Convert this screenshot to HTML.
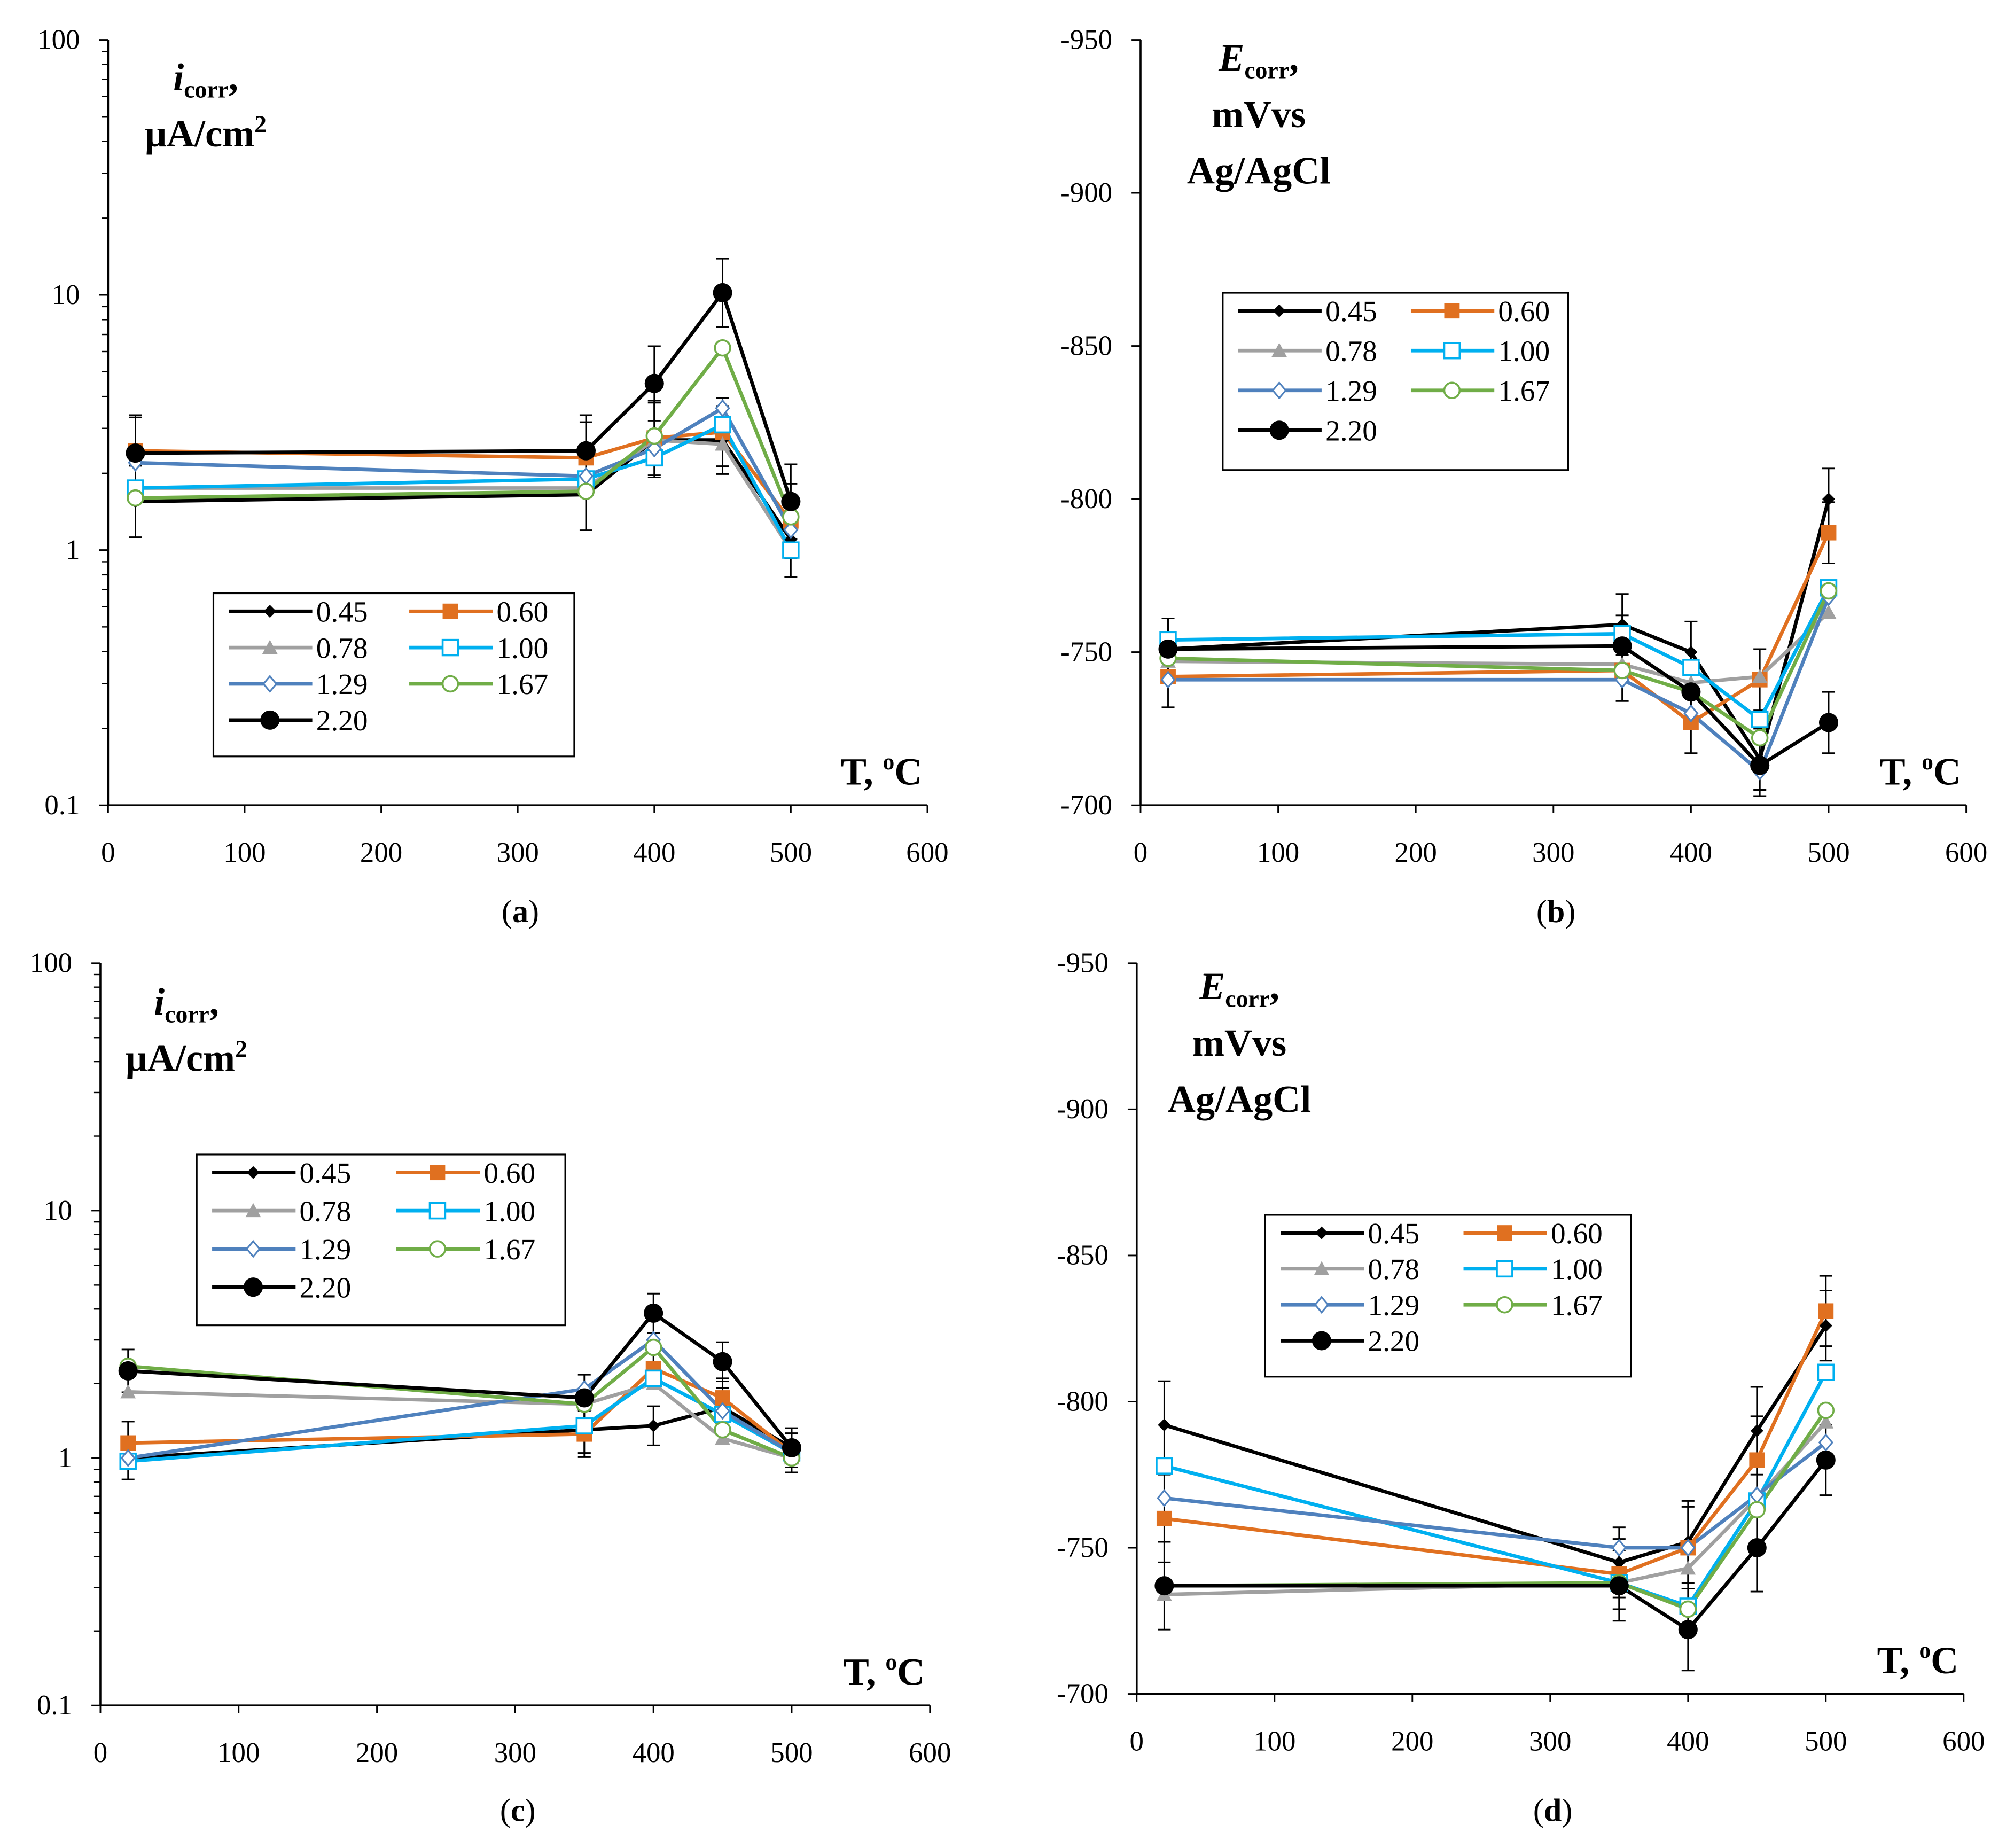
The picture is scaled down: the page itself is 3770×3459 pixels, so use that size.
<!DOCTYPE html>
<html><head><meta charset="utf-8">
<style>
html,body{margin:0;padding:0;background:#fff;}
svg{display:block;}
text{font-family:"Liberation Serif",serif;fill:#000;}
</style></head>
<body>
<svg id="fig" width="3770" height="3459" viewBox="0 0 1568 1439" xmlns="http://www.w3.org/2000/svg"></svg>
<script>
const temps = [20, 350, 400, 450, 500];
const seriesNames = ["0.45","0.60","0.78","1.00","1.29","1.67","2.20"];
const colors = ["#000000","#E07020","#A0A0A0","#00B0F0","#4F81BD","#70AD47","#000000"];
const markers = ["diamondFill","squareFill","triFill","squareOpen","diamondOpen","circleOpen","circleFill"];
const xTicks = [0,100,200,300,400,500,600];
const logTicks = [0.1,1,10,100];
const logTickLabels = ["0.1","1","10","100"];
const eTicks = [-700,-750,-800,-850,-900,-950];

const aVals = [
 [1.55,1.65,2.7,2.7,1.1],
 [2.45,2.3,2.75,2.9,1.3],
 [1.75,1.75,2.7,2.6,1.0],
 [1.75,1.9,2.3,3.1,1.0],
 [2.2,1.95,2.5,3.6,1.2],
 [1.6,1.7,2.8,6.2,1.35],
 [2.4,2.45,4.5,10.2,1.55]];
const aErr = [0.95,0.95,1.0,0.9,1.0];
const bVals = [
 [-751,-759,-750,-715,-800],
 [-742,-744,-727,-741,-789],
 [-747,-746,-740,-742,-763],
 [-754,-756,-745,-728,-771],
 [-741,-741,-730,-711,-768],
 [-748,-744,-737,-722,-770],
 [-751,-752,-737,-713,-727]];
const bErr = [10,10,10,10,10];
const cVals = [
 [1.0,1.3,1.35,1.6,1.1],
 [1.15,1.25,2.3,1.75,1.05],
 [1.85,1.65,2.0,1.2,1.0],
 [0.97,1.35,2.1,1.5,1.05],
 [1.0,1.9,3.0,1.55,1.05],
 [2.35,1.65,2.8,1.3,1.0],
 [2.25,1.75,3.85,2.45,1.1]];
const cErr = [0.55,0.6,0.5,0.5,0.5];
const dVals = [
 [-792,-745,-752,-790,-826],
 [-760,-741,-750,-780,-831],
 [-734,-738,-743,-767,-793],
 [-778,-738,-730,-766,-810],
 [-767,-750,-750,-768,-786],
 [-737,-738,-729,-763,-797],
 [-737,-737,-722,-750,-780]];
const dErr = [15,12,14,15,12];

const NS="http://www.w3.org/2000/svg";
const svg=document.getElementById('fig');
function mk(tag,attrs,parent){const e=document.createElementNS(NS,tag);for(const k in attrs)e.setAttribute(k,attrs[k]);(parent||svg).appendChild(e);return e;}

function marker(g,type,x,y,c){
  let e;
  if(type==="diamondFill"){e=mk('path',{d:`M${x} ${y-5}L${x+5} ${y}L${x} ${y+5}L${x-5} ${y}Z`,fill:c},g);}
  else if(type==="diamondOpen"){e=mk('path',{d:`M${x} ${y-6}L${x+5} ${y}L${x} ${y+6}L${x-5} ${y}Z`,fill:'#fff',stroke:c,'stroke-width':1.3},g);}
  else if(type==="squareFill"){e=mk('rect',{x:x-6,y:y-6,width:12,height:12,fill:c},g);}
  else if(type==="squareOpen"){e=mk('rect',{x:x-6,y:y-6,width:12,height:12,fill:'#fff',stroke:c,'stroke-width':1.5},g);}
  else if(type==="triFill"){e=mk('path',{d:`M${x} ${y-6}L${x+6} ${y+5}L${x-6} ${y+5}Z`,fill:c},g);}
  else if(type==="circleOpen"){e=mk('circle',{cx:x,cy:y,r:6,fill:'#fff',stroke:c,'stroke-width':1.5},g);}
  else {e=mk('circle',{cx:x,cy:y,r:7.5,fill:c},g);}
  
  
}

function panel(p){
  const g=mk('g',{});
  
  
  const xs=v=>p.x0+(p.x1-p.x0)*v/600;
  let ys;
  if(p.log){const a=Math.log10(0.1),b=Math.log10(100);ys=v=>p.yb+(p.yt-p.yb)*(Math.log10(v)-a)/(b-a);}
  else{ys=v=>p.yb+(p.yt-p.yb)*(v-(-700))/(-950-(-700));}
  const ax=mk('line',{x1:p.x0,y1:p.yb,x2:p.x1,y2:p.yb,stroke:'#000','stroke-width':1.5},g);
  
  const ay=mk('line',{x1:p.x0,y1:p.yt,x2:p.x0,y2:p.yb,stroke:'#000','stroke-width':1.5},g);
  
  xTicks.forEach(t=>{
    const x=xs(t);
    mk('line',{x1:x,y1:p.yb,x2:x,y2:p.yb+6,stroke:'#000','stroke-width':1.2},g);
    const tx=mk('text',{x:x,y:p.yb+44,'font-size':22,'text-anchor':'middle'},g);
    tx.textContent=t;
    
  });
  if(p.log){
    logTicks.forEach((t,i)=>{
      const y=ys(t);
      mk('line',{x1:p.x0-7,y1:y,x2:p.x0,y2:y,stroke:'#000','stroke-width':1.2},g);
      const tx=mk('text',{x:p.x0-22,y:y+7,'font-size':22,'text-anchor':'end'},g);
      tx.textContent=logTickLabels[i];
      
      if(i<3){for(let m=2;m<10;m++){const ym=ys(t*m);mk('line',{x1:p.x0-5,y1:ym,x2:p.x0,y2:ym,stroke:'#000','stroke-width':1},g);}}
    });
  } else {
    eTicks.forEach(t=>{
      const y=ys(t);
      mk('line',{x1:p.x0-7,y1:y,x2:p.x0,y2:y,stroke:'#000','stroke-width':1.2},g);
      const tx=mk('text',{x:p.x0-22,y:y+7,'font-size':22,'text-anchor':'end'},g);
      tx.textContent=t;
      
    });
  }
  p.vals.forEach((s,si)=>{
    if(si!==0&&si!==6&&si!==1)return;
    s.forEach((v,i)=>{
      const x=xs(temps[i]);let lo,hi;
      if(p.log){const f=1+p.err[i]*0.4;lo=v/f;hi=v*f;}else{lo=v-p.err[i];hi=v+p.err[i];}
      const e=mk('path',{d:`M${x} ${ys(lo)}V${ys(hi)}M${x-5} ${ys(lo)}h10M${x-5} ${ys(hi)}h10`,stroke:'#000','stroke-width':1.2,fill:'none'},g);
      
    });
  });
  p.vals.forEach((s,si)=>{
    const pts=s.map((v,i)=>xs(temps[i])+','+ys(v)).join(' ');
    const l=mk('polyline',{points:pts,fill:'none',stroke:colors[si],'stroke-width':2.8},g);
    
    
  });
  p.vals.forEach((s,si)=>{s.forEach((v,i)=>marker(g,markers[si],xs(temps[i]),ys(v),colors[si]));});
  const lg=mk('g',{},g);
  
  mk('rect',{x:p.lx,y:p.ly,width:p.lw,height:p.lh,fill:'#fff',stroke:'#000','stroke-width':1.3},lg);
  const rowH=(p.lh-14)/4;
  seriesNames.forEach((n,i)=>{
    const col=i===6?0:i%2,row=Math.floor(i/2);
    const bx=p.lx+12+col*(p.lw/2), by=p.ly+14+row*rowH;
    const e=mk('g',{},lg);
    
    mk('line',{x1:bx,y1:by,x2:bx+65,y2:by,stroke:colors[i],'stroke-width':2.8},e);
    marker(e,markers[i],bx+32,by,colors[i]);
    const t=mk('text',{x:bx+68,y:by+8,'font-size':23},e);t.textContent=n;
  });
  p.title.forEach((ln,i)=>{
    const t=mk('text',{x:p.tx,y:p.ty+i*44,'font-size':30,'font-weight':'bold','text-anchor':'middle'},g);
    t.innerHTML=ln;
    
  });
  const xt=mk('text',{x:p.x1-4,y:p.yb-16,'font-size':30,'font-weight':'bold','text-anchor':'end'},g);
  xt.innerHTML='T, <tspan font-size="18" dy="-12">o</tspan><tspan dy="12">C</tspan>';
  
  const cap=mk('text',{x:(p.x0+p.x1)/2+2,y:p.capy,'font-size':25,'text-anchor':'middle'},g);
  cap.innerHTML='(<tspan font-weight="bold">'+p.cap+'</tspan>)';
  
}
const iTitle=['<tspan font-style="italic">i</tspan><tspan font-size="19" dy="6">corr</tspan><tspan dy="-6">,</tspan>','μA/cm<tspan font-size="19" dy="-11">2</tspan>'];
const eTitle=['<tspan font-style="italic">E</tspan><tspan font-size="19" dy="6">corr</tspan><tspan dy="-6">,</tspan>','mVvs','Ag/AgCl'];
panel({name:'panel-a',log:true,x0:84,x1:722,yt:31,yb:627,vals:aVals,err:aErr,lx:166,ly:462,lw:281,lh:127,title:iTitle,tx:160,ty:70,cap:'a',capy:718});
panel({name:'panel-b',log:false,x0:888,x1:1531,yt:31,yb:627,vals:bVals,err:bErr,lx:952,ly:228,lw:269,lh:138,title:eTitle,tx:980,ty:55,cap:'b',capy:718});
panel({name:'panel-c',log:true,x0:78,x1:724,yt:750,yb:1328,vals:cVals,err:cErr,lx:153,ly:899,lw:287,lh:133,title:iTitle,tx:145,ty:790,cap:'c',capy:1418});
panel({name:'panel-d',log:false,x0:885,x1:1529,yt:750,yb:1319,vals:dVals,err:dErr,lx:985,ly:946,lw:285,lh:126,title:eTitle,tx:965,ty:778,cap:'d',capy:1418});
</script>
</body></html>
